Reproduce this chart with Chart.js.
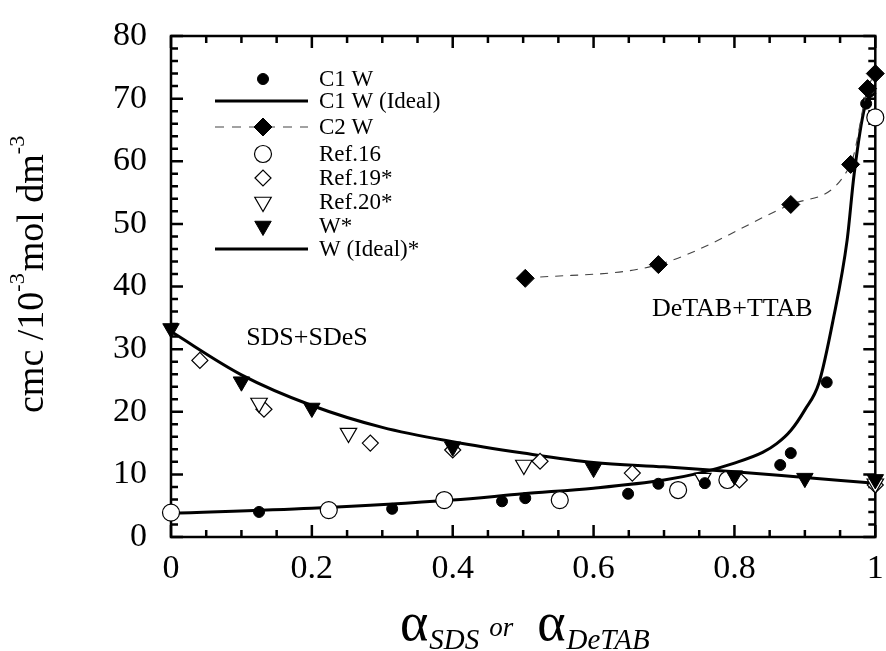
<!DOCTYPE html>
<html>
<head>
<meta charset="utf-8">
<script src="https://cdn.jsdelivr.net/npm/chart.js@4.4.1/dist/chart.umd.min.js"></script>
<style>
html,body{margin:0;padding:0;background:#fff;overflow:hidden}
#wrap{width:886px;height:651px}
</style>
</head>
<body>
<div id="wrap"><canvas id="cmcChart" width="886" height="651"></canvas></div>
<script>
const SERIF = '"Liberation Serif", "DejaVu Serif", serif';

// tick labels
const xTickValues = [0, 0.2, 0.4, 0.6, 0.8, 1];
const yTickValues = [0, 10, 20, 30, 40, 50, 60, 70, 80];

// C1 W (DeTAB+TTAB, filled circles)
const c1wX = [0.125, 0.314, 0.47, 0.503, 0.649, 0.692, 0.758, 0.865, 0.88, 0.931, 0.987];
const c1wY = [4.0, 4.5, 5.7, 6.2, 6.9, 8.5, 8.6, 11.5, 13.4, 24.7, 69.2];

// C1 W (Ideal) curve
const c1IdealX = [0, 0.2, 0.4, 0.5, 0.6, 0.7, 0.75, 0.8, 0.84, 0.86, 0.88, 0.9, 0.92, 0.94, 0.96, 0.97, 0.985, 1];
const c1IdealY = [3.8, 4.6, 5.9, 6.9, 7.8, 9.1, 10.2, 11.8, 13.5, 14.9, 17.0, 20.3, 24.6, 34.6, 47.4, 58, 68.6, 71];

// C2 W (filled diamonds, dashed)
const c2wX = [0.503, 0.692, 0.88, 0.965, 0.989, 1.0];
const c2wY = [41.3, 43.5, 53.1, 59.5, 71.6, 74];

// Ref.16 (open circles)
const ref16X = [0, 0.224, 0.388, 0.552, 0.72, 0.79, 1.0];
const ref16Y = [3.9, 4.3, 5.9, 5.9, 7.5, 9.1, 67];

// Ref.19* (open diamonds)
const ref19X = [0.041, 0.132, 0.283, 0.40, 0.524, 0.655, 0.807, 0.965, 1.0];
const ref19Y = [28.2, 20.4, 15.0, 13.9, 12.1, 10.2, 9.1, 59.5, 8.3];

// Ref.20* (open down triangles)
const ref20X = [0.125, 0.252, 0.501, 0.755, 1.0];
const ref20Y = [21.4, 16.6, 11.5, 9.4, 8.5];

// W* (SDS+SDeS, filled down triangles)
const wStarX = [0, 0.1, 0.2, 0.4, 0.6, 0.8, 0.9, 1.0];
const wStarY = [33.3, 24.8, 20.6, 14.4, 11.0, 9.8, 9.4, 9.2];

// W (Ideal)* curve
const wIdealX = [0, 0.1, 0.2, 0.3, 0.4, 0.5, 0.6, 0.7, 0.8, 0.9, 1];
const wIdealY = [32.8, 25.9, 21.0, 17.5, 15.2, 13.4, 11.9, 11.2, 10.4, 9.5, 8.6];

function zip(xs, ys) { return xs.map((x, i) => ({x: x, y: ys[i]})); }

const filledCircle = {pointStyle: 'circle', radius: 5.5, rotation: 0, fill: '#000', stroke: '#000', bw: 1};
const openCircle   = {pointStyle: 'circle', radius: 8.5, rotation: 0, fill: '#fff', stroke: '#000', bw: 1.2};
const filledDiam   = {pointStyle: 'rectRot', radius: 9, rotation: 0, fill: '#000', stroke: '#000', bw: 1};
const openDiam     = {pointStyle: 'rectRot', radius: 8, rotation: 0, fill: '#fff', stroke: '#000', bw: 1.2};
const openTri      = {pointStyle: 'triangle', radius: 9.5, rotation: 180, fill: '#fff', stroke: '#000', bw: 1.2};
const filledTri    = {pointStyle: 'triangle', radius: 9.5, rotation: 180, fill: '#000', stroke: '#000', bw: 1};

function pointSet(label, data, m, order) {
  return {
    label: label, data: data, showLine: false, order: order, clip: false,
    pointStyle: m.pointStyle, pointRadius: m.radius, pointRotation: m.rotation,
    pointBackgroundColor: m.fill, pointBorderColor: m.stroke, pointBorderWidth: m.bw,
    pointHoverRadius: m.radius
  };
}

const datasets = [
  pointSet('C1 W', zip(c1wX, c1wY), filledCircle, 1),
  pointSet('Ref.16', zip(ref16X, ref16Y), openCircle, 5),
  pointSet('Ref.19*', zip(ref19X, ref19Y), openDiam, 4),
  pointSet('Ref.20*', zip(ref20X, ref20Y), openTri, 3),
  pointSet('W*', zip(wStarX, wStarY), filledTri, 2),
  Object.assign(pointSet('C2 W', zip(c2wX, c2wY), filledDiam, 0), {
    showLine: true, borderColor: '#444', borderWidth: 1.1, borderDash: [8, 7],
    cubicInterpolationMode: 'monotone'
  }),
  {label: 'C1 W (Ideal)', data: zip(c1IdealX, c1IdealY), showLine: true, order: 8, clip: false,
   borderColor: '#000', borderWidth: 3, pointRadius: 0, cubicInterpolationMode: 'monotone'},
  {label: 'W (Ideal)*', data: zip(wIdealX, wIdealY), showLine: true, order: 9, clip: false,
   borderColor: '#000', borderWidth: 3, pointRadius: 0, cubicInterpolationMode: 'monotone'}
];

const legendRows = [
  {text: 'C1 W', marker: filledCircle, y: 79},
  {text: 'C1 W (Ideal)', line: 'solid', y: 101},
  {text: 'C2 W', marker: filledDiam, line: 'dash', y: 127},
  {text: 'Ref.16', marker: openCircle, y: 154},
  {text: 'Ref.19*', marker: openDiam, y: 178},
  {text: 'Ref.20*', marker: openTri, y: 202},
  {text: 'W*', marker: filledTri, y: 226},
  {text: 'W (Ideal)*', line: 'solid', y: 249}
];

function drawMarker(ctx, m, x, y, r) {
  ctx.save();
  ctx.fillStyle = m.fill; ctx.strokeStyle = m.stroke; ctx.lineWidth = m.bw;
  Chart.helpers.drawPoint(ctx, {pointStyle: m.pointStyle, rotation: m.rotation, radius: r || m.radius, borderWidth: m.bw}, x, y);
  ctx.restore();
}

const framePlugin = {
  id: 'frameTicks',
  beforeDatasetsDraw(chart) {
    const ctx = chart.ctx, a = chart.chartArea;
    const xs = chart.scales.x, ys = chart.scales.y;
    ctx.save();
    ctx.strokeStyle = '#000';
    ctx.lineWidth = 2.5;
    ctx.strokeRect(a.left, a.top, a.right - a.left, a.bottom - a.top);
    ctx.beginPath();
    for (let i = 0; i <= 20; i++) {
      const px = xs.getPixelForValue(i * 0.05);
      const len = (i % 4 === 0) ? 12 : 7;
      ctx.moveTo(px, a.bottom); ctx.lineTo(px, a.bottom - len);
      ctx.moveTo(px, a.top); ctx.lineTo(px, a.top + len);
    }
    for (let i = 0; i <= 40; i++) {
      const py = ys.getPixelForValue(i * 2);
      const len = (i % 5 === 0) ? 12 : 7;
      ctx.moveTo(a.left, py); ctx.lineTo(a.left + len, py);
      ctx.moveTo(a.right, py); ctx.lineTo(a.right - len, py);
    }
    ctx.stroke();
    ctx.restore();
  },
  afterDraw(chart) {
    const ctx = chart.ctx;
    const xs = chart.scales.x, ys = chart.scales.y;
    ctx.save();
    ctx.fillStyle = '#000';
    // legend
    ctx.font = '23px ' + SERIF;
    ctx.textBaseline = 'middle';
    ctx.textAlign = 'left';
    legendRows.forEach(r => {
      if (r.line) {
        ctx.save();
        ctx.beginPath();
        if (r.line === 'dash') { ctx.setLineDash([9, 8]); ctx.lineWidth = 1.1; ctx.strokeStyle = '#444'; }
        else { ctx.lineWidth = 3; ctx.strokeStyle = '#000'; }
        ctx.moveTo(215, r.y); ctx.lineTo(308, r.y);
        ctx.stroke();
        ctx.restore();
      }
      if (r.marker) drawMarker(ctx, r.marker, 263, r.y);
      ctx.fillStyle = '#000';
      ctx.fillText(r.text, 319, r.y + 1);
    });
    // annotations
    ctx.font = '26px ' + SERIF;
    ctx.textAlign = 'center';
    ctx.fillText('SDS+SDeS', xs.getPixelForValue(0.193), ys.getPixelForValue(31.7));
    ctx.fillText('DeTAB+TTAB', xs.getPixelForValue(0.797), ys.getPixelForValue(36.4));

    // x axis title
    ctx.textAlign = 'left';
    ctx.textBaseline = 'alphabetic';
    let x = 400;
    ctx.font = '54px ' + SERIF; ctx.fillText('\u03b1', x, 640); x += ctx.measureText('\u03b1').width + 1;
    ctx.font = 'italic 29px ' + SERIF; ctx.fillText('SDS', x, 649); x += ctx.measureText('SDS').width + 10;
    ctx.font = 'italic 27px ' + SERIF; ctx.fillText('or', x, 636); x += ctx.measureText('or').width + 24;
    ctx.font = '54px ' + SERIF; ctx.fillText('\u03b1', x, 640); x += ctx.measureText('\u03b1').width + 1;
    ctx.font = 'italic 29px ' + SERIF; ctx.fillText('DeTAB', x, 649);

    // y axis title
    ctx.translate(43, 413);
    ctx.rotate(-Math.PI / 2);
    let t = 0;
    const big = '38px ' + SERIF, sup = '22px ' + SERIF;
    const parts = [['cmc /10', big, 0], ['-3', sup, -19], ['mol dm', big, 0], ['-3', sup, -19]];
    parts.forEach(p => {
      ctx.font = p[1];
      ctx.fillText(p[0], t, p[2]);
      t += ctx.measureText(p[0]).width + (p[1] === sup ? 2 : 0);
    });
    ctx.restore();
  }
};

const CHART = document.getElementById('cmcChart');
const cmcChart = new Chart(CHART, {
  type: 'scatter',
  data: {datasets: datasets},
  options: {
    responsive: false,
    animation: false,
    devicePixelRatio: 1,
    layout: {padding: {left: 0, right: 4, top: 36, bottom: 0}},
    plugins: {legend: {display: false}, tooltip: {enabled: false}},
    scales: {
      x: {
        type: 'linear', min: 0, max: 1,
        grid: {display: false, drawTicks: false},
        border: {display: false},
        afterBuildTicks: s => { s.ticks = xTickValues.map(v => ({value: v})); },
        afterFit: s => { s.height = 114; s.paddingLeft = 0; s.paddingRight = 0; },
        ticks: {color: '#000', padding: 12, maxRotation: 0, font: {family: SERIF, size: 34},
                callback: v => String(v)}
      },
      y: {
        type: 'linear', min: 0, max: 80,
        grid: {display: false, drawTicks: false},
        border: {display: false},
        afterBuildTicks: s => { s.ticks = yTickValues.map(v => ({value: v})); },
        afterFit: s => { s.width = 171; s.paddingTop = 0; s.paddingBottom = 0; },
        ticks: {color: '#000', padding: 24, font: {family: SERIF, size: 34},
                callback: v => String(v)}
      }
    }
  },
  plugins: [framePlugin]
});
</script>
</body>
</html>
